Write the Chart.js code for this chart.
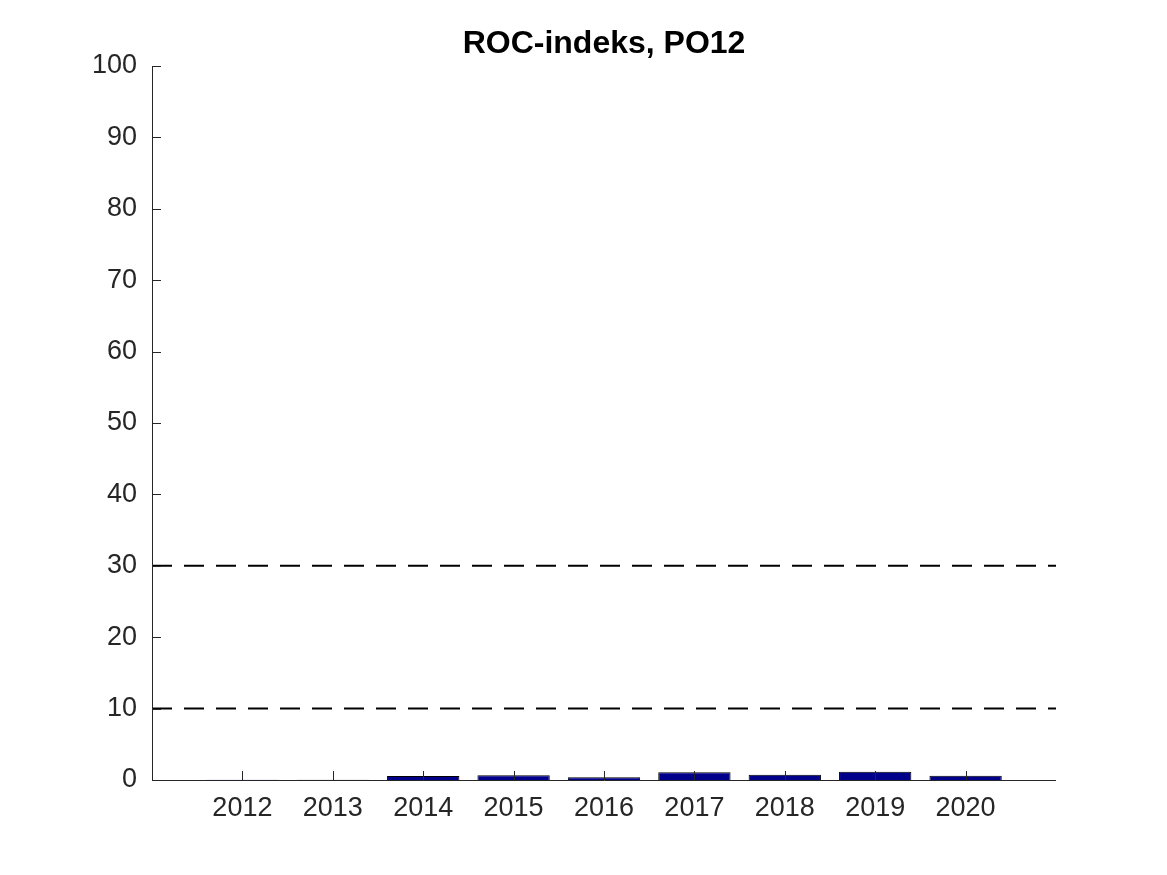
<!DOCTYPE html>
<html>
<head>
<meta charset="utf-8">
<script src="https://cdn.jsdelivr.net/npm/chart.js@4/dist/chart.umd.min.js"></script>
<style>
  html, body { margin: 0; padding: 0; background: #fff; }
  canvas { display: block; }
</style>
</head>
<body>
<canvas id="chart" width="1167" height="875"></canvas>
<script>
const years = [2012, 2013, 2014, 2015, 2016, 2017, 2018, 2019, 2020];
const rocValues = [0.05, 0.03, 0.55, 0.65, 0.4, 1.1, 0.75, 1.15, 0.6];
const limitLow = 10;
const limitHigh = 30;
const xRange = [2011, 2021];
const yTicks = [0, 10, 20, 30, 40, 50, 60, 70, 80, 90, 100];
const chartTitle = 'ROC-indeks, PO12';

const axisColor = '#262626';
const fontFamily = '"Liberation Sans", Arial, Helvetica, sans-serif';

// matlab-style axes: only left + bottom, ticks pointing inwards
const insideAxes = {
  id: 'insideAxes',
  afterDraw(chart) {
    const { ctx, chartArea: a, scales: { x, y } } = chart;
    ctx.save();
    ctx.strokeStyle = axisColor;
    ctx.lineWidth = 1;
    ctx.beginPath();
    ctx.moveTo(a.left + 0.5, a.top);
    ctx.lineTo(a.left + 0.5, a.bottom + 0.5);
    ctx.lineTo(a.right, a.bottom + 0.5);
    yTicks.forEach(v => {
      const py = Math.round(y.getPixelForValue(v)) + 0.5;
      ctx.moveTo(a.left, py);
      ctx.lineTo(a.left + 9, py);
    });
    years.forEach(v => {
      const px = Math.round(x.getPixelForValue(v)) + 0.5;
      ctx.moveTo(px, a.bottom);
      ctx.lineTo(px, a.bottom - 9);
    });
    ctx.stroke();

    ctx.fillStyle = '#000';
    ctx.font = 'bold 32px ' + fontFamily;
    ctx.textAlign = 'center';
    ctx.textBaseline = 'middle';
    ctx.fillText(chartTitle, (a.left + a.right) / 2, 44);
    ctx.restore();
  }
};

new Chart(document.getElementById('chart'), {
  data: {
    datasets: [
      {
        type: 'bar',
        data: years.map((yr, i) => ({ x: yr, y: rocValues[i] })),
        backgroundColor: '#00008b',
        borderColor: '#000000',
        borderWidth: 1,
        barPercentage: 0.8,
        categoryPercentage: 1.0,
        order: 2
      },
      {
        type: 'line',
        data: xRange.map(v => ({ x: v, y: limitLow })),
        borderColor: '#000',
        borderWidth: 2,
        borderDash: [20, 12],
        pointRadius: 0,
        order: 1
      },
      {
        type: 'line',
        data: xRange.map(v => ({ x: v, y: limitHigh })),
        borderColor: '#000',
        borderWidth: 2,
        borderDash: [20, 12],
        pointRadius: 0,
        order: 1
      }
    ]
  },
  options: {
    responsive: false,
    animation: false,
    layout: { padding: { top: 66, right: 111, left: 0, bottom: 0 } },
    plugins: {
      legend: { display: false },
      title: { display: false },
      tooltip: { enabled: false }
    },
    scales: {
      x: {
        type: 'linear',
        min: xRange[0],
        max: xRange[1],
        offset: false,
        grid: { display: false },
        border: { display: false },
        afterFit(scale) { scale.height = 95; },
        afterBuildTicks(scale) {
          scale.ticks = years.map(v => ({ value: v }));
        },
        ticks: {
          color: axisColor,
          padding: 4,
          maxRotation: 0,
          font: { family: fontFamily, size: 27 },
          callback: v => String(v)
        }
      },
      y: {
        min: 0,
        max: 100,
        grid: { display: false },
        border: { display: false },
        afterFit(scale) { scale.width = 152; },
        ticks: {
          stepSize: 10,
          color: axisColor,
          padding: 7,
          font: { family: fontFamily, size: 27 }
        }
      }
    }
  },
  plugins: [insideAxes]
});
</script>
</body>
</html>
